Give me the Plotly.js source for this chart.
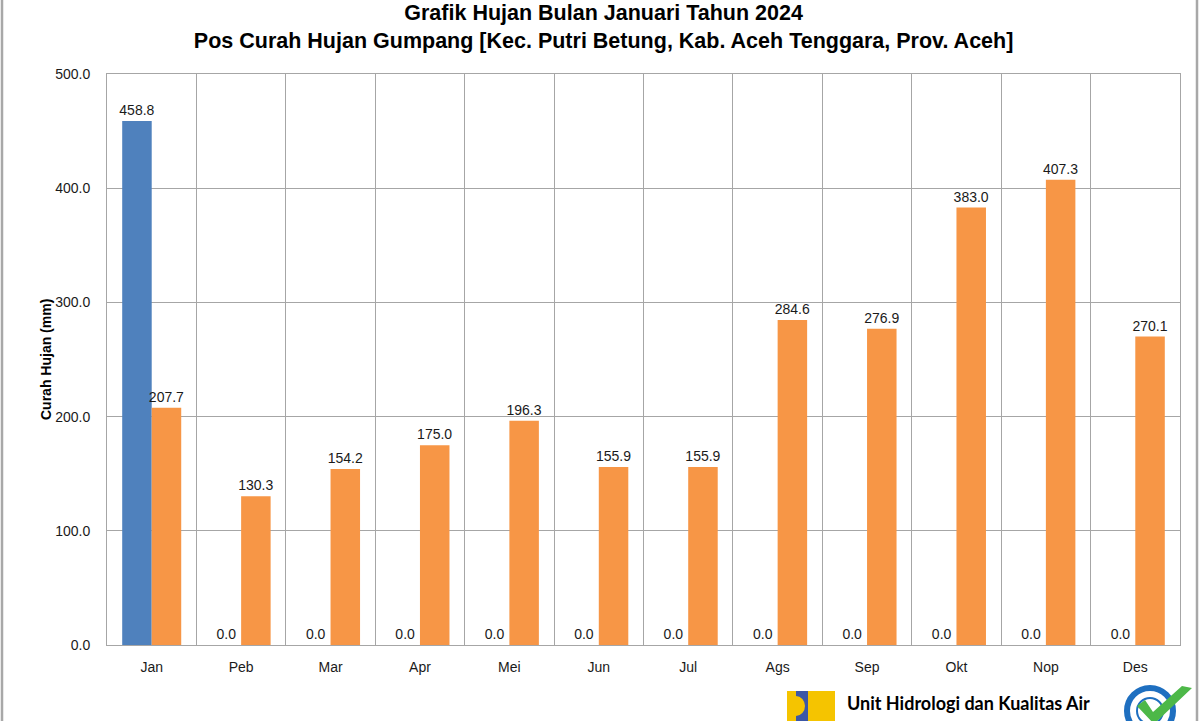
<!DOCTYPE html>
<html>
<head>
<meta charset="utf-8">
<script src="https://cdn.plot.ly/plotly-3.0.1.min.js"></script>
<style>html,body{margin:0;padding:0;background:#fff;}#chart{width:1200px;height:721px;}</style>
</head>
<body>
<div id="chart"></div>
<script>
// ---- data ----
const months = ["Jan","Peb","Mar","Apr","Mei","Jun","Jul","Ags","Sep","Okt","Nop","Des"];
const hujan2024 = [458.8, 0.0, 0.0, 0.0, 0.0, 0.0, 0.0, 0.0, 0.0, 0.0, 0.0, 0.0];
const hujanRerata = [207.7, 130.3, 154.2, 175.0, 196.3, 155.9, 155.9, 284.6, 276.9, 383.0, 407.3, 270.1];
const yTicks = [0, 100, 200, 300, 400, 500];
const yTickText = ["0.0", "100.0", "200.0", "300.0", "400.0", "500.0"];

// ---- layout helpers (pixel -> paper) ----
const L = 107, R = 1180, T = 74, B = 645;
const px = x => (x - L) / (R - L);
const py = y => (B - y) / (B - T);

const sans = '"Liberation Sans", Arial, sans-serif';
const labelFont = {family: sans, size: 14, color: '#1a1a1a'};

const traces = [
  {
    type: 'bar', x: months, y: hujan2024, name: '2024',
    marker: {color: '#4F81BD', line: {width: 0}},
    text: hujan2024, texttemplate: '%{y:.1f}', textposition: 'outside', constraintext: 'none',
    textfont: labelFont, cliponaxis: false, hoverinfo: 'x+y'
  },
  {
    type: 'bar', x: months, y: hujanRerata, name: 'Rerata',
    marker: {color: '#F79646', line: {width: 0}},
    text: hujanRerata, texttemplate: '%{y:.1f}', textposition: 'outside', constraintext: 'none',
    textfont: labelFont, cliponaxis: false, hoverinfo: 'x+y'
  }
];

function pathPx(points) {
  return points.map((p, i) => (i === 0 ? 'M' : 'L') + px(p[0]).toFixed(5) + ',' + py(p[1]).toFixed(5)).join(' ') + ' Z';
}

const shapes = [
  // outer border
  {type: 'rect', xref: 'paper', yref: 'paper', x0: px(2), x1: px(1197), y0: py(-10), y1: py(740),
   line: {color: '#a8a8a8', width: 2.5}, fillcolor: 'rgba(0,0,0,0)', layer: 'below'},
  // PU logo
  {type: 'rect', xref: 'paper', yref: 'paper', x0: px(789), x1: px(835), y0: py(691), y1: py(730),
   line: {width: 0}, fillcolor: '#F5C400'},
  {type: 'rect', xref: 'paper', yref: 'paper', x0: px(796), x1: px(808), y0: py(691), y1: py(730),
   line: {width: 0}, fillcolor: '#3C57A6'},
  {type: 'circle', xref: 'paper', yref: 'paper', x0: px(787), x1: px(805), y0: py(696), y1: py(716),
   line: {width: 0}, fillcolor: '#F5C400'},
  {type: 'rect', xref: 'paper', yref: 'paper', x0: px(787), x1: px(796), y0: py(691), y1: py(730),
   line: {width: 0}, fillcolor: '#F5C400'},
  // ISO ring
  {type: 'circle', xref: 'paper', yref: 'paper', x0: px(1127), x1: px(1173), y0: py(688), y1: py(734),
   line: {color: '#1E6FC0', width: 6}, fillcolor: '#ffffff'},
  {type: 'circle', xref: 'paper', yref: 'paper', x0: px(1137), x1: px(1163), y0: py(698), y1: py(724),
   line: {color: '#1E6FC0', width: 2}, fillcolor: 'rgba(0,0,0,0)'},
  // check mark
  {type: 'path', xref: 'paper', yref: 'paper',
   path: pathPx([[1137, 706], [1145, 700], [1153, 712], [1182, 686], [1192, 688], [1154, 724]]),
   line: {width: 0}, fillcolor: '#4DB848'}
];

const annotations = [
  {text: 'Curah Hujan (mm)', xref: 'paper', yref: 'paper', x: px(46), y: py(360),
   textangle: -90, showarrow: false, xanchor: 'center', yanchor: 'middle',
   font: {family: sans, size: 14, color: '#000', weight: 'bold'}},
  {text: '<b>Unit Hidrologi dan Kualitas Air</b>', xref: 'paper', yref: 'paper', x: px(845), y: py(703),
   showarrow: false, xanchor: 'left', yanchor: 'middle',
   font: {family: 'Lato, "Open Sans", sans-serif', size: 18, color: '#000'}},
  {text: '<b>Balai Wilayah Sungai Sumatera I</b>', xref: 'paper', yref: 'paper', x: px(845), y: py(729),
   showarrow: false, xanchor: 'left', yanchor: 'middle',
   font: {family: 'Lato, "Open Sans", sans-serif', size: 18, color: '#000'}}
];

const layout = {
  width: 1200, height: 721,
  margin: {l: L, r: 1200 - R, t: T, b: 721 - B, pad: 0},
  paper_bgcolor: '#ffffff', plot_bgcolor: '#ffffff',
  showlegend: false,
  barmode: 'group', bargap: 0.34, bargroupgap: 0,
  title: {
    text: 'Grafik Hujan Bulan Januari Tahun 2024<br>Pos Curah Hujan Gumpang [Kec. Putri Betung, Kab. Aceh Tenggara, Prov. Aceh]',
    x: 0.503, xanchor: 'center', y: 1 - 20 / 721, yanchor: 'middle', yref: 'container',
    font: {family: sans, size: 21.5, color: '#000', weight: 'bold'}
  },
  xaxis: {
    type: 'category', tickson: 'boundaries', showgrid: true, gridcolor: '#a6a6a6', gridwidth: 1,
    showline: true, linecolor: '#a6a6a6', linewidth: 1, mirror: true,
    ticks: '', ticklabelstandoff: 9, tickfont: {family: sans, size: 14, color: '#1a1a1a'},
    fixedrange: true
  },
  yaxis: {
    range: [0, 500], tickvals: yTicks, ticktext: yTickText,
    showgrid: true, gridcolor: '#a6a6a6', gridwidth: 1, zeroline: false,
    showline: true, linecolor: '#a6a6a6', linewidth: 1, mirror: true,
    ticks: '', ticklabelstandoff: 13, tickfont: {family: sans, size: 14, color: '#1a1a1a'},
    fixedrange: true
  },
  shapes: shapes,
  annotations: annotations,
  font: {family: sans}
};

Plotly.newPlot('chart', traces, layout, {displayModeBar: false, staticPlot: true});
</script>
</body>
</html>
